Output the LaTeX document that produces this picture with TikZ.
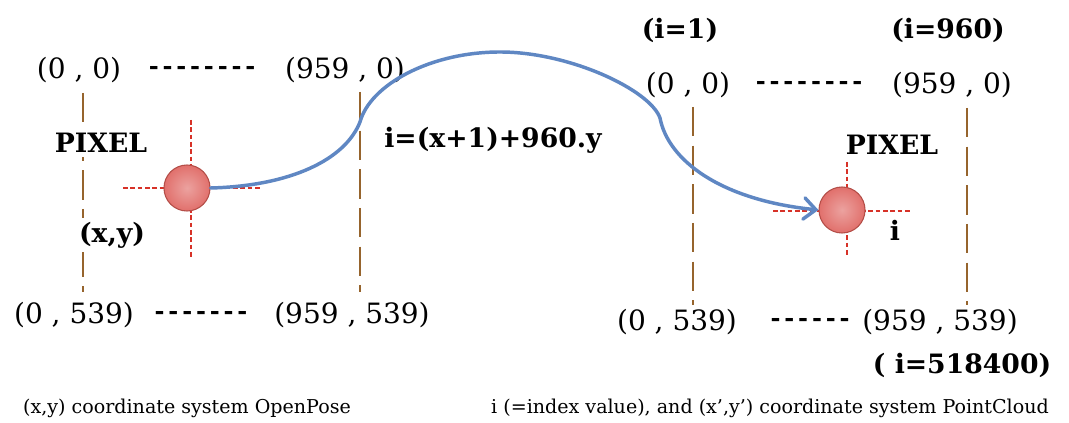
\documentclass[tikz,border=0pt]{standalone}
\usepackage{fontspec}
\setmainfont{DejaVu Serif}
\usetikzlibrary{arrows.meta}
\definecolor{axisbrown}{RGB}{150,100,45}
\definecolor{crossred}{RGB}{215,50,40}
\definecolor{arrowblue}{RGB}{95,135,195}
\definecolor{ballred}{RGB}{225,112,108}
\definecolor{ballrim}{RGB}{180,78,72}
\newcommand{\hyph}{-\kern0.16em}
\begin{document}
\begin{tikzpicture}[x=0.75pt,y=-0.75pt,
  coord/.style={font=\fontsize{21}{24}\selectfont, inner sep=0pt},
  dashtxt/.style={font=\fontsize{18}{20}\selectfont\bfseries, inner sep=0pt},
  blabel/.style={font=\fontsize{20}{24}\selectfont\bfseries, inner sep=1pt},
  captxt/.style={font=\fontsize{14.3}{16}\selectfont, inner sep=0pt},
  axisline/.style={draw=axisbrown, line width=2.2pt, dash pattern=on 22pt off 7pt},
  crossline/.style={draw=crossred, line width=1pt, dash pattern=on 3.5pt off 2pt},
  ballnode/.style={circle, minimum size=34.5pt, inner sep=0pt, inner color=ballred!65!white, outer color=ballred, draw=ballrim, line width=0.8pt},
  link/.style={draw=arrowblue, line width=2.6pt, line cap=round, -{Straight Barb[length=9pt,width=16pt,line cap=round]}}]
\useasboundingbox (0,0) rectangle (1069,423);
\fill[white] (0,0) rectangle (1069,423);

% ---------- axis lines ----------
\coordinate (LLt) at (83,93);  \coordinate (LLb) at (83,292);
\coordinate (LRt) at (360,92); \coordinate (LRb) at (360,292);
\coordinate (RLt) at (693,107); \coordinate (RLb) at (693,305);
\coordinate (RRt) at (967,108); \coordinate (RRb) at (967,305);
\draw[axisline] (LLt) -- (LLb);
\draw[axisline] (LRt) -- (LRb);
\draw[axisline] (RLt) -- (RLb);
\draw[axisline] (RRt) -- (RRb);

% ---------- left system ----------
\node[coord] (l00) at (79,70) {(0 , 0)};
\node[dashtxt] (ltd) at (204,70) {\hyph\hyph\hyph\hyph\hyph\hyph\hyph\hyph};
\node[coord] (l9590) at (345,70) {(959 , 0)};
\node[coord] (l0539) at (74,315) {(0 , 539)};
\node[dashtxt] (lbd) at (203,315) {\hyph\hyph\hyph\hyph\hyph\hyph\hyph};
\node[coord] (l959539) at (352,315) {(959 , 539)};
\node[blabel, fill=white, inner sep=3pt] (lpix) at (101,143) {PIXEL};
\node[blabel, fill=white, inner sep=3pt] (lxy) at (112,235) {(x,y)};

\coordinate (lcv1) at (191,120); \coordinate (lcv2) at (191,257);
\coordinate (lch1) at (123,188); \coordinate (lch2) at (260,188);
\draw[crossline] (lcv1) -- (lcv2);
\draw[crossline] (lch1) -- (lch2);
\node[ballnode] (b1) at (187,188) {};

\node[blabel] (formula) at (493,140) {i=(x+1)+960.y};

% ---------- right system ----------
\node[blabel] (ri1) at (680,30) {(i=1)};
\node[blabel] (ri960) at (948,30) {(i=960)};
\node[coord] (r00) at (688,85) {(0 , 0)};
\node[dashtxt] (rtd) at (811,85) {\hyph\hyph\hyph\hyph\hyph\hyph\hyph\hyph};
\node[coord] (r9590) at (952,85) {(959 , 0)};
\node[coord] (r0539) at (677,322) {(0 , 539)};
\node[dashtxt] (rbd) at (812,322) {\hyph\hyph\hyph\hyph\hyph\hyph};
\node[coord] (r959539) at (940,322) {(959 , 539)};
\node[blabel] (rlast) at (962,365) {( i=518400)};
\node[blabel] (rpix) at (892,145) {PIXEL};

\coordinate (rcv1) at (847,162); \coordinate (rcv2) at (847,257);
\coordinate (rch1) at (773,211); \coordinate (rch2) at (910,211);
\draw[crossline] (rcv1) -- (rcv2);
\draw[crossline] (rch1) -- (rch2);
\node[ballnode] (b2) at (842,210) {};
\node[blabel] (ri) at (895,230) {i};

% ---------- connector ----------
\coordinate (k1) at (360,122);
\coordinate (k2) at (500,52);
\coordinate (k3) at (660,118);
\draw[link] (b1.east) .. controls (290,186) and (345,160) .. (k1)
  .. controls (370,85) and (430,52) .. (k2)
  .. controls (570,52) and (650,90) .. (k3)
  .. controls (668,160) and (720,200) .. (b2.west);

% ---------- captions ----------
\node[captxt] (capl) at (187,408) {(x,y) coordinate system OpenPose};
\node[captxt] (capr) at (770,408) {i (=index value), and (x’,y’) coordinate system PointCloud};
\end{tikzpicture}
\end{document}
